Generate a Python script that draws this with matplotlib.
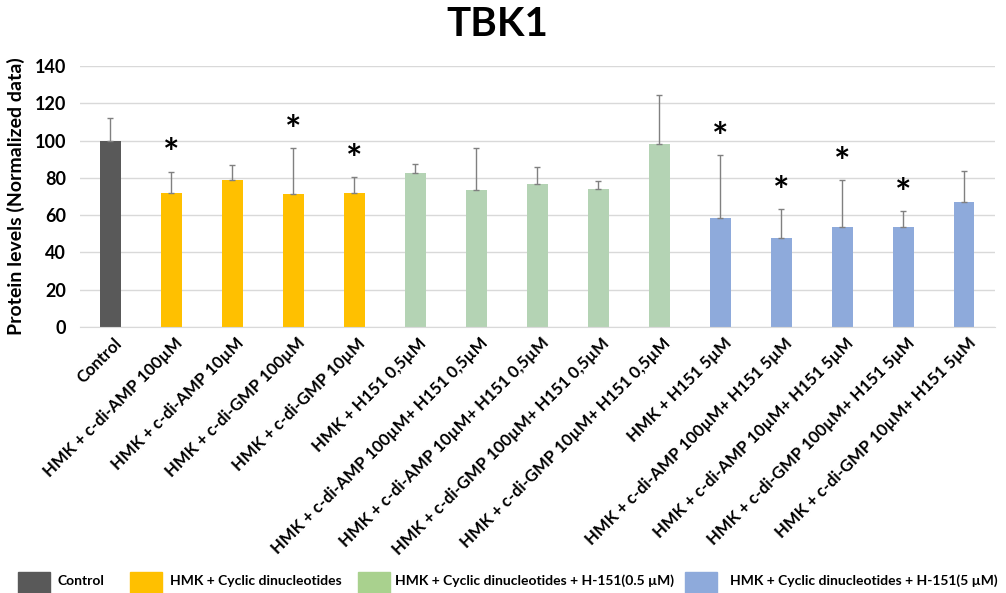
import matplotlib
matplotlib.use("Agg")
import matplotlib.pyplot as plt
import matplotlib.transforms as mtransforms
from matplotlib.patches import Rectangle

plt.rcParams['font.family'] = ['Lato', 'DejaVu Sans']

categories = [
    "Control",
    "HMK + c-di-AMP 100\u00b5M",
    "HMK + c-di-AMP 10\u00b5M",
    "HMK + c-di-GMP 100\u00b5M",
    "HMK + c-di-GMP 10\u00b5M",
    "HMK + H151 0,5\u00b5M",
    "HMK + c-di-AMP 100\u00b5M+ H151 0,5\u00b5M",
    "HMK + c-di-AMP 10\u00b5M+ H151 0,5\u00b5M",
    "HMK + c-di-GMP 100\u00b5M+ H151 0,5\u00b5M",
    "HMK + c-di-GMP 10\u00b5M+ H151 0,5\u00b5M",
    "HMK + H151 5\u00b5M",
    "HMK + c-di-AMP 100\u00b5M+ H151 5\u00b5M",
    "HMK + c-di-AMP 10\u00b5M+ H151 5\u00b5M",
    "HMK + c-di-GMP 100\u00b5M+ H151 5\u00b5M",
    "HMK + c-di-GMP 10\u00b5M+ H151 5\u00b5M",
]
values = [100, 72.1, 78.7, 71.3, 72.1, 82.4, 73.6, 76.6, 73.8, 98.2,
          58.6, 48.0, 53.8, 53.9, 67.0]
errors = [12.3, 11.2, 8.4, 24.5, 8.4, 5.0, 22.5, 9.3, 4.6, 26.1,
          33.5, 15.2, 25.1, 8.2, 16.8]
significant = [False, True, False, True, True, False, False, False, False, False,
               True, True, True, True, False]
groups = [0, 1, 1, 1, 1, 2, 2, 2, 2, 2, 3, 3, 3, 3, 3]
group_names = ["Control", "HMK + Cyclic dinucleotides",
               "HMK + Cyclic dinucleotides + H-151(0.5 \u00b5M)",
               "HMK + Cyclic dinucleotides + H-151(5 \u00b5M)"]
y_ticks = [0, 20, 40, 60, 80, 100, 120, 140]

bar_colors = ["#595959", "#ffc000", "#b4d3b4", "#8eaadb"]
legend_colors = ["#595959", "#ffc000", "#a9d18e", "#8eaadb"]

fig = plt.figure(figsize=(10.06, 5.93), dpi=100)
ax = fig.add_axes([0.0795, 0.4486, 0.9095, 0.4401])

x = list(range(len(categories)))
ax.bar(x, values, width=0.33, color=[bar_colors[g] for g in groups], zorder=2)
ax.errorbar(x, values, yerr=[[0] * len(errors), errors], fmt='none',
            ecolor='#808080', elinewidth=1.0, capsize=2.5, capthick=1.0, zorder=3)

for xi, v, e, s in zip(x, values, errors, significant):
    if s:
        ax.text(xi, v + e + 9, "*", ha='center', va='center',
                fontsize=28, fontweight='bold', color='black')

ax.set_xlim(-0.5, len(categories) - 0.5)
ax.set_ylim(0, 140)
ax.set_yticks(y_ticks)
ax.set_yticklabels([str(t) for t in y_ticks], fontsize=13, fontweight='bold')
ax.yaxis.grid(True, color='#d9d9d9', linewidth=1.0, zorder=0)
ax.set_axisbelow(True)
for sp in ['top', 'right', 'left']:
    ax.spines[sp].set_visible(False)
ax.spines['bottom'].set_color('#d9d9d9')
ax.tick_params(axis='both', length=0)
ax.tick_params(axis='y', pad=10)

ax.set_xticks(x)
ax.set_xticklabels(categories, rotation=45, ha='right', rotation_mode='anchor',
                   fontsize=12, fontweight='bold')
offset = mtransforms.ScaledTranslation(3 / 100, -3 / 100, fig.dpi_scale_trans)
for lab in ax.get_xticklabels():
    lab.set_transform(lab.get_transform() + offset)

ax.set_ylabel("Protein levels (Normalized data)", fontsize=14, fontweight='bold')
ax.yaxis.set_label_coords(-0.060, 0.5)

fig.text(0.4945, 0.958, "TBK1", ha='center', va='center', fontsize=29,
         fontweight='bold')

# legend row along the bottom edge
sw_left = [18, 130, 358, 685]
txt_left = [58, 170, 395, 730]
W, H = 1006, 593
for i, name in enumerate(group_names):
    fig.patches.append(Rectangle((sw_left[i] / W, 0), 32 / W, 21 / H,
                                 transform=fig.transFigure,
                                 color=legend_colors[i]))
    fig.text(txt_left[i] / W, 1 - 581 / H, name, ha='left', va='center',
             fontsize=10, fontweight='bold')

fig.savefig("out.png", dpi=100)
